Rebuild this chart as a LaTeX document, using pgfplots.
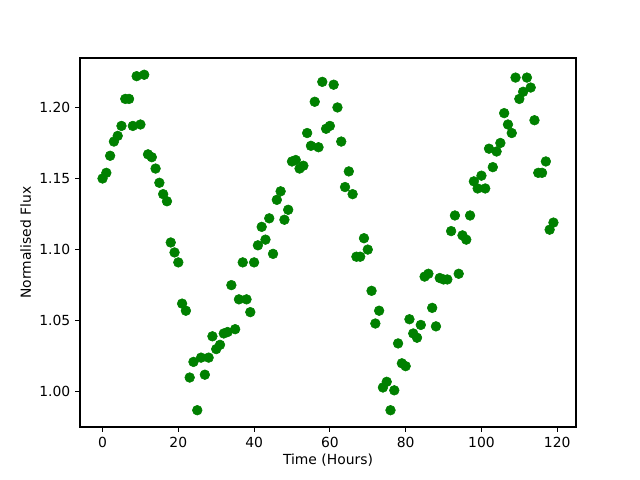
\documentclass[border=0pt]{standalone}
\usepackage{pgfplots}
\pgfplotsset{compat=1.18}
\usepackage{fontspec}
\setmainfont{DejaVu Sans}
\definecolor{mplgreen}{HTML}{008000}
\begin{document}
\begin{tikzpicture}
\begin{axis}[
  at={(0,0)}, anchor=south west,
  scale only axis, width=357.1pt, height=265.7pt,
  xmin=-5.95, xmax=124.95, ymin=0.9752, ymax=1.2348,
  xtick={0,20,40,60,80,100,120},
  ytick={1.00,1.05,1.10,1.15,1.20},
  yticklabel style={/pgf/number format/.cd, fixed, fixed zerofill, precision=2},
  /pgf/number format/assume math mode=true,
  tick align=outside, tick pos=left,
  major tick length=3.5pt,
  every tick/.style={black, line width=0.8pt},
  axis line style={line width=0.8pt},
  tick label style={font=\fontsize{10}{12}\selectfont},
  label style={font=\fontsize{10}{12}\selectfont},
  xlabel={Time (Hours)}, ylabel={Normalised Flux},
  xlabel style={yshift=2pt},
  ylabel style={yshift=-1pt},
]
\addplot[only marks, mark=*, mark size=3.5pt, color=mplgreen, mark options={draw=mplgreen, fill=mplgreen}] coordinates {
(0,1.150)(1,1.154)(2,1.166)(3,1.176)(4,1.180)(5,1.187)(6,1.206)(7,1.206)(8,1.187)(9,1.222)
(10,1.188)(11,1.223)(12,1.167)(13,1.165)(14,1.157)(15,1.147)(16,1.139)(17,1.134)(18,1.105)(19,1.098)
(20,1.091)(21,1.062)(22,1.057)(23,1.010)(24,1.021)(25,0.987)(26,1.024)(27,1.012)(28,1.024)(29,1.039)
(30,1.030)(31,1.033)(32,1.041)(33,1.042)(34,1.075)(35,1.044)(36,1.065)(37,1.091)(38,1.065)(39,1.056)
(40,1.091)(41,1.103)(42,1.116)(43,1.107)(44,1.122)(45,1.097)(46,1.135)(47,1.141)(48,1.121)(49,1.128)
(50,1.162)(51,1.163)(52,1.157)(53,1.159)(54,1.182)(55,1.173)(56,1.204)(57,1.172)(58,1.218)(59,1.185)
(60,1.187)(61,1.216)(62,1.200)(63,1.176)(64,1.144)(65,1.155)(66,1.139)(67,1.095)(68,1.095)(69,1.108)
(70,1.100)(71,1.071)(72,1.048)(73,1.057)(74,1.003)(75,1.007)(76,0.987)(77,1.001)(78,1.034)(79,1.020)
(80,1.018)(81,1.051)(82,1.041)(83,1.038)(84,1.047)(85,1.081)(86,1.083)(87,1.059)(88,1.046)(89,1.080)
(90,1.079)(91,1.079)(92,1.113)(93,1.124)(94,1.083)(95,1.110)(96,1.107)(97,1.124)(98,1.148)(99,1.143)
(100,1.152)(101,1.143)(102,1.171)(103,1.158)(104,1.169)(105,1.175)(106,1.196)(107,1.188)(108,1.182)(109,1.221)
(110,1.206)(111,1.211)(112,1.221)(113,1.214)(114,1.191)(115,1.154)(116,1.154)(117,1.162)(118,1.114)(119,1.119)
};
\end{axis}
\path[use as bounding box] (-57.6pt,-38.16pt) rectangle (403.2pt,307.44pt);
\end{tikzpicture}
\end{document}
